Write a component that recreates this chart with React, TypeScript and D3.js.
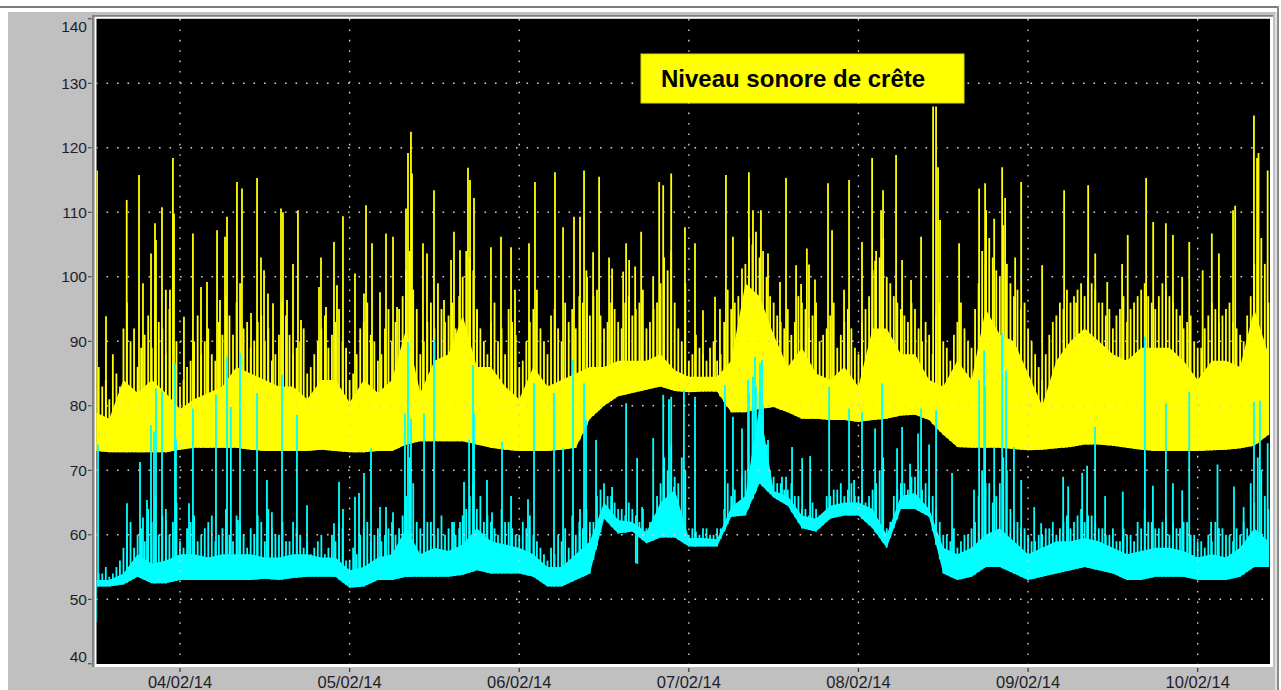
import React from 'react';
import * as d3 from 'd3';

// ---- data ----
const START = new Date(2014, 1, 3, 12, 0); // 03/02/14 12:00, hours below are offsets from it
const END_HOURS = 166.23;
const yTickValues = [40, 50, 60, 70, 80, 90, 100, 110, 120, 130, 140];
const dateTickLabels = ['04/02/14', '05/02/14', '06/02/14', '07/02/14', '08/02/14', '09/02/14', '10/02/14'];
const legendLabel = 'Niveau sonore de crête';

// 2-hourly samples of the dense band (floor / top of the solid part)
const yellowFloor = [
  73, 72.8, 72.8, 72.8, 72.8, 72.8, 73.2, 73.5, 73.5, 73.5,
  73.5, 73.2, 73, 73, 73, 73, 73.2, 73, 72.8, 72.8,
  73, 73, 74, 74.5, 74.5, 74.5, 74.5, 74, 73.5, 73.2,
  73, 73, 73, 73.2, 73.5, 78, 80, 81.5, 82, 82.5,
  83, 82.3, 82.1, 82.2, 82.2, 79, 79, 79.5, 79.8, 79,
  78, 78, 77.8, 77.8, 77.5, 77.8, 78, 78.5, 78.6, 77.8,
  75.5, 73.6, 73.5, 73.5, 73.5, 73.3, 73.1, 73.2, 73.4, 73.6,
  74, 74, 73.8, 73.5, 73.2, 73, 73, 73, 73, 73.1,
  73.2, 73.4, 73.8, 75.5,
];
const yellowTop = [
  79, 78, 84, 82, 84, 82, 79.5, 81, 82, 83,
  86, 85, 84, 83, 83, 81, 84, 84, 80.5, 84,
  82, 84, 92, 82, 87, 88, 94, 86, 86, 83,
  81, 86, 83, 84, 85, 86, 86, 87, 87, 87,
  88, 85.5, 84.5, 84.5, 84.5, 87, 99, 97, 91, 86,
  89, 85, 84, 86, 83, 92, 92, 88, 88, 84,
  83, 87, 84, 95, 91, 90, 85, 80, 87, 90,
  92, 90, 88, 87, 89, 89, 89, 87, 84, 87,
  87, 86, 95, 88,
];
const cyanFloor = [
  52, 52, 52.3, 53.5, 52.5, 52.5, 53, 53, 53, 53,
  53, 53, 53.2, 53, 53.3, 53.5, 53.5, 53.5, 51.8, 52,
  53, 53, 53.5, 53.5, 53.5, 53.5, 53.8, 54.5, 54, 54,
  54, 53.5, 52, 52, 53, 54, 62.5, 60.2, 60.5, 58.7,
  59.6, 59.6, 58.2, 58.2, 58.2, 62.8, 63, 68, 65.8, 64.5,
  61, 60.5, 62.5, 63, 63, 61, 58, 64, 64, 62.8,
  54, 53, 53.5, 55, 55, 54, 53, 53.5, 54, 54.5,
  55, 54.5, 54, 53, 53, 53.5, 53.5, 53.5, 53, 53,
  53, 53.5, 55, 55,
];
const cyanTop = [
  53, 53, 54, 57, 55.5, 56, 57, 57, 56.5, 57,
  57, 57, 56.5, 56.5, 57, 57, 56.5, 56.5, 54.5, 55,
  56.5, 57, 61, 57, 58, 57.5, 58.5, 61, 59, 58.5,
  58, 57, 55, 55, 57, 59, 65, 62.3, 62, 60.4,
  65, 67, 59.5, 59.5, 59.3, 64.3, 66, 80, 66.8, 66,
  63, 62.5, 64.5, 65, 65, 64, 60, 66, 66.5, 64,
  58, 57, 58, 60, 61, 59, 57, 58, 59, 59,
  59.5, 59, 58, 57, 57.5, 58, 58, 57.5, 56.5, 57,
  56.5, 58, 61, 59,
];

// hourly combs of spike tips: first at h = i + 0.5, second at h = i + 1
const yellowComb = [
  86, 84, 88, 83, 96, 92, 89, 94, 96, 92,
  95, 90, 84, 87, 94, 90, 88, 93, 97, 91,
  99, 93, 90, 94, 92, 88, 96, 91, 89, 92,
  86, 90, 94, 91, 95, 89, 85, 92, 96, 90,
  88, 95, 93, 97, 104, 95, 90, 96, 99, 93,
  96, 97, 104, 101, 92, 88, 96, 92, 95, 91,
  87, 93, 98, 90, 94, 92, 96, 95, 97, 101,
  97, 94, 93, 95, 92, 97, 95, 98, 93, 96,
  103, 104, 92, 99, 88, 89, 87, 90, 88, 98,
  96, 94, 106, 107, 104, 97, 94, 92, 91, 97,
  95, 94, 90, 92, 96, 91, 95, 89, 93, 97,
  104, 106, 99, 96, 94, 96, 92, 93, 88, 96,
  89, 91, 96, 90, 95, 104, 106, 101, 108, 99,
  98, 96, 90, 86, 88, 93, 96, 98, 97, 99,
  100, 98, 96, 95, 94, 97, 95, 97, 99, 96,
  97, 98, 96, 94, 93, 90, 89, 94, 95, 94,
  96, 92, 90, 97, 108, 102,
];
const yellowComb2 = [
  83, 81, 85, 92, 90, 86, 91, 89, 93, 88,
  86, 83, 86, 90, 88, 92, 87, 91, 94, 96,
  92, 89, 93, 90, 87, 91, 94, 88, 90, 85,
  88, 92, 89, 93, 90, 84, 88, 93, 91, 87,
  92, 90, 95, 101, 98, 88, 93, 92, 95, 94,
  92, 100, 103, 95, 90, 93, 90, 88, 93, 86,
  90, 95, 92, 88, 95, 90, 93, 92, 96, 94,
  98, 92, 96, 93, 96, 94, 96, 92, 95, 99,
  101, 96, 90, 87, 91, 88, 89, 87, 93, 95,
  97, 102, 105, 103, 100, 96, 93, 95, 93, 96,
  92, 96, 91, 94, 89, 93, 92, 88, 95, 101,
  103, 100, 97, 95, 93, 95, 90, 91, 94, 90,
  87, 93, 92, 89, 99, 102, 103, 100, 102, 97,
  95, 92, 88, 84, 91, 94, 95, 96, 98, 97,
  99, 96, 94, 92, 95, 93, 96, 98, 97, 95,
  99, 97, 95, 92, 94, 89, 92, 96, 93, 95,
  93, 91, 94, 102, 106, 96,
];
const cyanComb = [
  54, 55, 54, 56, 60, 58, 61, 64, 66, 63,
  60, 65, 58, 62, 59, 61, 63, 60, 64, 59,
  62, 58, 60, 62, 64, 60, 62, 59, 61, 58,
  57, 59, 57, 60, 62, 56, 58, 60, 62, 60,
  59, 61, 60, 63, 72, 62, 60, 62, 61, 60,
  62, 61, 64, 68, 66, 63, 61, 64, 62, 60,
  62, 63, 59, 57, 58, 60, 61, 63, 62, 64,
  62, 67, 66, 65, 64, 65, 63, 64, 62, 66,
  72, 74, 68, 70, 61, 60, 61, 60, 61, 68,
  67, 69, 82, 83, 80, 70, 68, 67, 68, 66,
  64, 65, 63, 66, 67, 68, 67, 66, 67, 66,
  68, 72, 62, 67, 68, 69, 70, 68, 66, 62,
  60, 61, 59, 60, 62, 70, 68, 66, 72, 64,
  62, 61, 59, 60, 61, 62, 61, 63, 62, 64,
  63, 62, 61, 60, 59, 61, 60, 62, 64, 62,
  61, 63, 62, 61, 62, 60, 59, 60, 62, 61,
  60, 61, 62, 68, 72, 66,
];
const cyanComb2 = [
  54, 53.5, 55, 58, 62, 60, 59, 62, 60, 64,
  62, 59, 61, 63, 60, 62, 59, 61, 60, 63,
  60, 61, 63, 59, 61, 60, 59, 62, 60, 59,
  58, 60, 58, 59, 61, 56, 57, 61, 59, 61,
  60, 62, 61, 66, 68, 61, 62, 60, 63, 61,
  60, 63, 66, 64, 62, 62, 60, 62, 61, 60,
  61, 60, 58, 56, 57, 59, 58, 60, 61, 62,
  66, 68, 66, 64, 63, 64, 62, 61, 63, 68,
  70, 69, 72, 60, 60.5, 61, 60, 61, 64, 66,
  65, 70, 80, 82, 74, 69, 68, 67, 66, 64,
  63, 64, 63, 66, 67, 66, 68, 66, 65, 67,
  70, 61, 66, 68, 67, 69, 67, 66, 64, 60,
  59, 58, 60, 61, 66, 68, 65, 68, 70, 62,
  61, 60, 59, 60, 61, 60, 62, 61, 63, 62,
  63, 61, 60, 61, 59, 60, 59, 61, 62, 61,
  62, 60, 61, 62, 60, 59, 58, 59, 61, 60,
  59, 60, 61, 65, 70, 64,
];

// individual peaks: [hours from start, dB]
const yellowPeaks: [number, number][] = [
  [0.25, 116.5], [1.53, 93.9], [4.46, 111.9], [6.2, 115.8], [6.76, 99], [7.9, 103.6], [8.46, 108.3],
  [8.6, 105.7], [9.45, 110.8], [10.0, 98], [10.58, 98], [11.0, 118.4], [11.15, 109.8], [12.56, 93.8],
  [13.83, 106.7], [14.97, 98.4], [15.82, 99.2], [17.24, 107.2], [17.66, 96.4], [18.37, 106.2],
  [18.65, 109.3], [20.06, 114.7], [20.77, 113.7], [22.05, 94.4], [22.9, 115.3], [23.46, 103],
  [23.89, 101], [24.45, 97.4], [25.16, 95.9], [26.29, 110.6], [26.57, 110], [27.14, 96.4],
  [27.99, 102], [28.69, 110.3], [29.12, 93.3], [31.67, 98.4], [31.95, 103], [32.66, 95.3],
  [33.79, 105.4], [34.21, 98.7], [35.06, 109.4], [36.76, 100.5], [38.03, 97.4], [38.32, 111.1],
  [39.17, 105.2], [40.3, 97.6], [41.15, 106.7], [42.14, 106.2], [42.71, 95.3], [43.98, 110.6],
  [44.26, 119.2], [44.68, 122.5], [44.83, 116], [46.38, 105.2], [46.95, 103.6], [47.94, 113.4],
  [49.36, 96.4], [50.35, 102.6], [50.77, 107], [51.62, 104.1], [52.75, 116.9], [53.04, 115],
  [53.6, 112.2], [54.03, 94.9], [56.0, 104.6], [57.42, 106.2], [58.84, 104.6], [59.4, 98],
  [61.38, 105.2], [62.23, 114.7], [65.06, 116.2], [66.2, 107.7], [67.75, 109.3], [68.6, 109.3],
  [69.17, 116.5], [69.6, 100], [70.45, 103.8], [71.3, 115.5], [72.71, 103], [73.14, 101.3],
  [74.7, 100.8], [75.12, 105.2], [75.55, 102.6], [76.4, 101.6], [77.25, 107], [78.95, 100],
  [79.8, 114.7], [80.37, 114.2], [81.5, 116], [83.45, 107.7], [84.87, 105.2], [86.0, 94.8],
  [87.7, 96.9], [88.4, 95], [89.25, 115.8], [90.24, 106.2], [91.52, 101.3], [92.5, 116.2],
  [93.07, 110.3], [94.2, 110.3], [95.2, 103.6], [96.9, 99.2], [97.75, 115.3], [99.17, 101.8],
  [99.88, 98.9], [100.7, 104.4], [101.0, 101.9], [101.85, 99.6], [103.69, 114.5], [104.26, 107.2],
  [105.96, 98], [106.67, 115], [108.5, 105.4], [109.93, 118.4], [110.35, 102.5], [111.2, 110.3],
  [111.48, 113.4], [113.32, 118.9], [114.17, 102.6], [115.44, 99.5], [116.86, 106.2],
  [118.56, 126.4], [118.98, 126.4], [119.26, 117], [119.55, 108.8], [122.24, 105.2],
  [125.07, 113.7], [125.92, 114.5], [126.06, 110.3], [127.2, 109], [128.33, 117], [128.75, 112.2],
  [130.17, 103], [131.02, 114.7], [133.99, 101.8], [137.1, 113.4], [138.8, 96], [140.5, 114.2],
  [141.5, 103.6], [143.2, 99.2], [145.3, 102], [146.1, 106.5], [148.7, 115.3], [149.7, 108.5],
  [151.5, 108.3], [152.5, 106.5], [153.8, 100], [154.8, 105.4], [156.7, 101], [158.0, 106.7],
  [159.0, 103.6], [161.0, 110.3], [161.3, 111], [163.96, 125], [164.4, 118.4], [164.6, 119.2],
  [165.9, 116.5],
];
const cyanPeaks: [number, number][] = [
  [0.15, 46.5], [0.4, 74], [4.5, 64.9], [6.34, 71.3], [6.76, 62.7], [7.33, 65.4], [7.9, 77],
  [8.32, 76], [8.6, 82.7], [9.45, 82.2], [10.0, 62.3], [11.29, 86.6], [11.43, 74.7], [13.27, 64.9],
  [13.83, 79.6], [17.09, 81.7], [18.65, 87.6], [19.2, 79.8], [20.2, 62.3], [20.49, 88.2], [22.9, 82],
  [24.3, 68.5], [25.0, 63.5], [26.43, 84.8], [28.55, 78.6], [29.97, 64.6], [33.79, 61.8],
  [34.5, 68.2], [35.06, 64], [36.76, 65.9], [37.33, 66.5], [38.03, 69.6], [39.03, 73.4],
  [40.3, 64.3], [41.15, 64.3], [42.14, 63.5], [43.83, 78.8], [44.26, 89.9], [44.68, 78],
  [46.53, 78.8], [47.94, 90.2], [50.77, 62], [51.62, 62], [52.19, 68.2], [52.9, 74.7], [53.46, 86.3],
  [53.6, 78.8], [55.44, 68.5], [56.15, 63.5], [57.56, 74.4], [58.84, 66], [61.24, 65.5],
  [62.09, 83.5], [64.92, 82], [66.2, 73.4], [67.61, 87.1], [68.6, 64], [69.17, 83.5], [69.45, 77.8],
  [70.87, 74.7], [73.14, 67.4], [75.12, 80.4], [76.5, 55.6], [76.7, 55.5], [76.68, 71.9],
  [77.39, 64.3], [78.95, 75], [80.37, 81.7], [81.19, 81], [81.5, 81.4], [81.9, 67.5], [83.3, 82.4],
  [84.87, 81.4], [89.1, 83.2], [90.24, 78.3], [91.52, 76.5], [92.38, 84], [93.07, 84.5],
  [93.36, 87.6], [94.07, 86.6], [94.35, 87.1], [95.2, 74.7], [97.18, 69], [97.75, 69], [98.6, 73.6],
  [100.03, 71.9], [101.16, 72.2], [103.85, 82.9], [106.67, 79.6], [107.38, 68.5], [108.5, 79],
  [110.35, 76.5], [111.34, 83.5], [113.46, 73.4], [114.17, 76.7], [115.3, 71], [116.43, 75.7],
  [116.86, 79.6], [117.99, 74], [118.98, 79.3], [121.24, 69.6], [124.35, 67], [125.07, 84],
  [125.78, 88.6], [125.92, 83], [127.2, 73.6], [128.33, 91.2], [128.9, 85.5], [130.0, 73.6],
  [131.02, 68.5], [132.86, 64.3], [133.85, 61.8], [136.96, 69], [137.67, 67.5], [139.65, 69.6],
  [140.35, 70.7], [141.48, 76.7], [142.9, 66], [145.4, 66.7], [148.53, 90.7], [149.66, 67.6],
  [151.5, 80.4], [152.5, 68], [153.8, 66.9], [154.8, 82.2], [157.9, 62], [158.8, 70.9],
  [161.13, 67.5], [162.5, 64.3], [163.96, 80.6], [164.8, 80.8], [165.9, 74.2],
];

const SAMPLE_STEP_H = 2;
const COMB_OFFSET_H = 0.5;
const COMB2_OFFSET_H = 1;

const W = 1281;
const H = 690;
const PL = 96.5;
const PR = 1270;
const PT = 18.8;
const PB = 664;
const FONT = 'Liberation Sans, Arial, Helvetica, sans-serif';

const hourToDate = (h: number) => new Date(START.getTime() + h * 3600000);

export default function App() {
  const x = d3.scaleTime().domain([START, hourToDate(END_HOURS)]).range([95.19, PR]);
  const y = d3.scaleLinear().domain([40, 140]).range([663.8, 18.8]);
  const sampleHours = yellowFloor.map((_, i) => i * SAMPLE_STEP_H);

  const yFloorAt = d3.scaleLinear().domain(sampleHours).range(yellowFloor).clamp(true);
  const cFloorAt = d3.scaleLinear().domain(sampleHours).range(cyanFloor).clamp(true);

  const bandArea = (lo: number[], hi: number[]) =>
    d3.area<number>()
      .x((h) => x(hourToDate(h)))
      .y0((_, i) => y(lo[i]))
      .y1((_, i) => y(hi[i]))(sampleHours) || '';

  const toPairs = (arr: number[], off: number) => arr.map((v, i) => [i + off, v] as [number, number]);
  const yellowAll: [number, number][] = [
    ...toPairs(yellowComb, COMB_OFFSET_H),
    ...toPairs(yellowComb2, COMB2_OFFSET_H),
    ...yellowPeaks,
  ];
  const cyanAll: [number, number][] = [
    ...toPairs(cyanComb, COMB_OFFSET_H),
    ...toPairs(cyanComb2, COMB2_OFFSET_H),
    ...cyanPeaks,
  ];

  const parseDate = d3.timeParse('%d/%m/%y');
  const dateTicks = dateTickLabels.map((l) => ({ label: l, date: parseDate(l) as Date }));

  return (
    <svg width={W} height={H} style={{ position: 'absolute', left: 0, top: 0, display: 'block' }}>
      <defs>
        <clipPath id="plotClip">
          <rect x={PL} y={PT} width={PR - PL} height={PB - PT} />
        </clipPath>
      </defs>
      <rect x={0} y={0} width={W} height={H} fill="#ffffff" />
      {/* window frame */}
      <rect x={0} y={6} width={1279} height={2} fill="#7a7a7a" />
      <rect x={8} y={12} width={1267} height={H - 12} fill="#c0c0c0" />
      <rect x={1277} y={6} width={2} height={H - 6} fill="#8a8a8a" />
      <rect x={1275} y={12} width={2} height={H - 12} fill="#e0e0e0" />
      {/* plot bevel */}
      <rect x={92} y={15} width={1181} height={652} fill="#808080" />
      <rect x={94.5} y={16.8} width={1178.5} height={650.2} fill="#ffffff" />
      <rect x={PL} y={PT} width={PR - PL} height={PB - PT} fill="#000000" />

      <g clipPath="url(#plotClip)">
        <path d={bandArea(yellowFloor, yellowTop)} fill="#ffff00" />
        {yellowAll.map(([h, v], i) => (
          <line key={'yp' + i} x1={x(hourToDate(h))} x2={x(hourToDate(h))}
            y1={y(yFloorAt(h))} y2={y(v)} stroke="#ffff00" strokeWidth={1.8} />
        ))}
        <path d={bandArea(cyanFloor, cyanTop)} fill="#00ffff" />
        {cyanAll.map(([h, v], i) => (
          <line key={'cp' + i} x1={x(hourToDate(h))} x2={x(hourToDate(h))}
            y1={y(cFloorAt(h))} y2={y(v)} stroke="#00ffff" strokeWidth={1.8} />
        ))}
        {/* dotted grid */}
        {yTickValues.slice(1, -1).map((v) => (
          <line key={'gh' + v} x1={96} x2={PR} y1={y(v)} y2={y(v)}
            stroke="#d0d0d0" strokeWidth={1.4} strokeDasharray="1.6 8.9" />
        ))}
        {dateTicks.map((t) => (
          <line key={'gv' + t.label} x1={x(t.date)} x2={x(t.date)} y1={19} y2={PB}
            stroke="#d0d0d0" strokeWidth={1.4} strokeDasharray="1.6 8.8" />
        ))}
      </g>

      {/* legend */}
      <rect x={641} y={54} width={323} height={49} fill="#ffff00" stroke="#d8d800" strokeWidth={1} />
      <text x={661} y={86.5} fontFamily={FONT} fontWeight="bold" fontSize={24} fill="#000">{legendLabel}</text>

      {/* y axis */}
      {yTickValues.map((v) => {
        const ty = y(v);
        const labelCenter = v === 140 ? 26 : v === 40 ? 656 : ty;
        return (
          <g key={'yt' + v}>
            <line x1={88} x2={91.5} y1={ty} y2={ty} stroke="#333" strokeWidth={1} />
            <text x={87} y={labelCenter + 5.5} textAnchor="end" fontFamily={FONT} fontSize={15.5} fill="#1e1e2a">{v}</text>
          </g>
        );
      })}
      {/* x axis */}
      {dateTicks.map((t) => {
        const tx = x(t.date);
        return (
          <g key={'xt' + t.label}>
            <line x1={tx} x2={tx} y1={668} y2={672} stroke="#333" strokeWidth={1.2} />
            <text x={tx} y={687.5} textAnchor="middle" fontFamily={FONT} fontSize={16.5} fill="#1e1e2a">{t.label}</text>
          </g>
        );
      })}
    </svg>
  );
}
